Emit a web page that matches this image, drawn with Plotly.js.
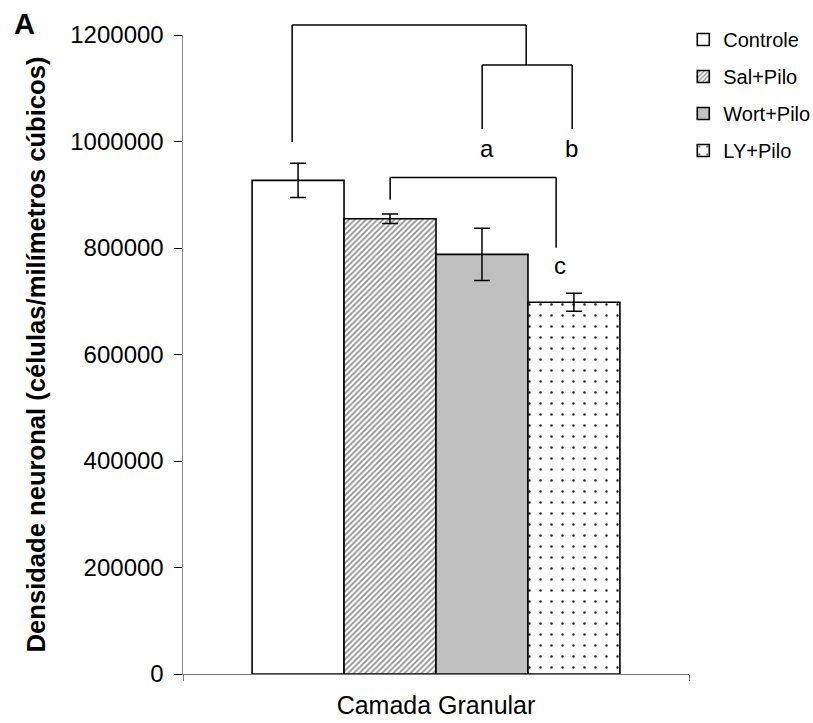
<!DOCTYPE html>
<html>
<head>
<meta charset="utf-8">
<script src="https://cdn.plot.ly/plotly-3.0.1.min.js"></script>
<style>html,body{margin:0;padding:0;background:#fff;}#chart{width:813px;height:723px;}</style>
</head>
<body>
<div id="chart"></div>
<script>
// ---- data ----
const categories = ['Camada Granular'];
const groups = ['Controle', 'Sal+Pilo', 'Wort+Pilo', 'LY+Pilo'];
const means = [927000, 855000, 788000, 698000];
const errors = [32000, 9000, 49000, 17000];
const yTicks = [0, 200000, 400000, 600000, 800000, 1000000, 1200000];
const yMax = 1200000;

// ---- styles ----
const FONT = 'Liberation Sans, Arial, sans-serif';
const markers = [
  {color: '#ffffff', line: {color: '#000', width: 1.6}},
  {color: '#ffffff', line: {color: '#000', width: 1.6},
   pattern: {shape: '/', fgcolor: '#8f8f8f', bgcolor: '#ffffff', size: 4, solidity: 0.45}},
  {color: '#c0c0c0', line: {color: '#000', width: 1.6}},
  {color: '#ffffff', line: {color: '#000', width: 1.6},
   pattern: {shape: '.', fgcolor: '#2a2a2a', bgcolor: '#ffffff', size: 11, solidity: 0.04}}
];

const traces = groups.map((g, i) => ({
  type: 'bar',
  name: g,
  legendgroup: g,
  x: categories,
  y: [means[i]],
  marker: markers[i],
  error_y: {type: 'data', array: [errors[i]], visible: true, color: '#000', thickness: 1.5, width: 8},
  hoverinfo: 'y'
}));

// significance brackets: [x0, y0, x1, y1] in category units / data values
const bracketLines = [
  [-0.2843, 999200, -0.2843, 1218800],
  [-0.2843, 1218800, 0.1782, 1218800],
  [0.1782, 1218800, 0.1782, 1143800],
  [0.0912, 1143800, 0.2691, 1143800],
  [0.0912, 1143800, 0.0912, 1023700],
  [0.2691, 1143800, 0.2691, 1023700],
  [-0.0906, 890400, -0.0906, 932200],
  [-0.0906, 932200, 0.2374, 932200],
  [0.2374, 932200, 0.2374, 800300]
];
const shapes = bracketLines.map(l => ({
  type: 'line', xref: 'x', yref: 'paper',
  x0: l[0], y0: l[1] / yMax, x1: l[2], y1: l[3] / yMax,
  line: {color: '#000', width: 1.5}
}));

const sigLabels = [
  {text: 'a', x: 0.1005, y: 987000},
  {text: 'b', x: 0.2685, y: 987000},
  {text: 'c', x: 0.2454, y: 767000}
];
const annotations = sigLabels.map(s => ({
  text: s.text, xref: 'x', yref: 'paper', x: s.x, y: s.y / yMax,
  showarrow: false, xanchor: 'center', yanchor: 'middle',
  font: {family: FONT, size: 24, color: '#000'}
}));
annotations.push({
  text: '<b>A</b>', xref: 'paper', yref: 'paper', x: 0, y: 1,
  xshift: -159, yshift: 11, xanchor: 'center', yanchor: 'middle', showarrow: false,
  font: {family: FONT, size: 29, color: '#000'}
});

const layout = {
  width: 813, height: 723,
  margin: {l: 182.7, r: 124, t: 35, b: 48.5, autoexpand: false},
  paper_bgcolor: '#fff', plot_bgcolor: '#fff',
  barmode: 'group', bargap: 0.273, bargroupgap: 0,
  showlegend: true,
  legend: {
    x: 0.9887, y: 1.0235, xanchor: 'left', yanchor: 'top',
    font: {family: FONT, size: 20, color: '#000'},
    traceorder: 'grouped', tracegroupgap: 8, borderwidth: 0, bgcolor: 'rgba(0,0,0,0)'
  },
  font: {family: FONT, color: '#000'},
  xaxis: {
    type: 'category', range: [-0.5, 0.5],
    showline: true, linecolor: '#777', linewidth: 1.2,
    ticks: 'outside', tickson: 'boundaries', ticklen: 6, tickcolor: '#777', tickwidth: 1,
    ticklabelstandoff: 9,
    tickfont: {family: FONT, size: 25, color: '#000'},
    showgrid: false, zeroline: false, fixedrange: true
  },
  yaxis: {
    range: [0, yMax], tickvals: yTicks, ticktext: yTicks.map(String),
    showline: true, linecolor: '#888', linewidth: 1.5,
    ticks: 'outside', ticklen: 8, tickcolor: '#000', tickwidth: 1,
    ticklabelstandoff: 5,
    tickfont: {family: FONT, size: 24, color: '#000'},
    showgrid: false, zeroline: false, fixedrange: true,
    title: {text: '<b>Densidade neuronal (células/milímetros cúbicos)</b>',
            font: {family: FONT, size: 25.6, color: '#000'}, standoff: 17}
  },
  shapes: shapes,
  annotations: annotations
};

Plotly.newPlot('chart', traces, layout, {displayModeBar: false, staticPlot: true});
</script>
</body>
</html>
